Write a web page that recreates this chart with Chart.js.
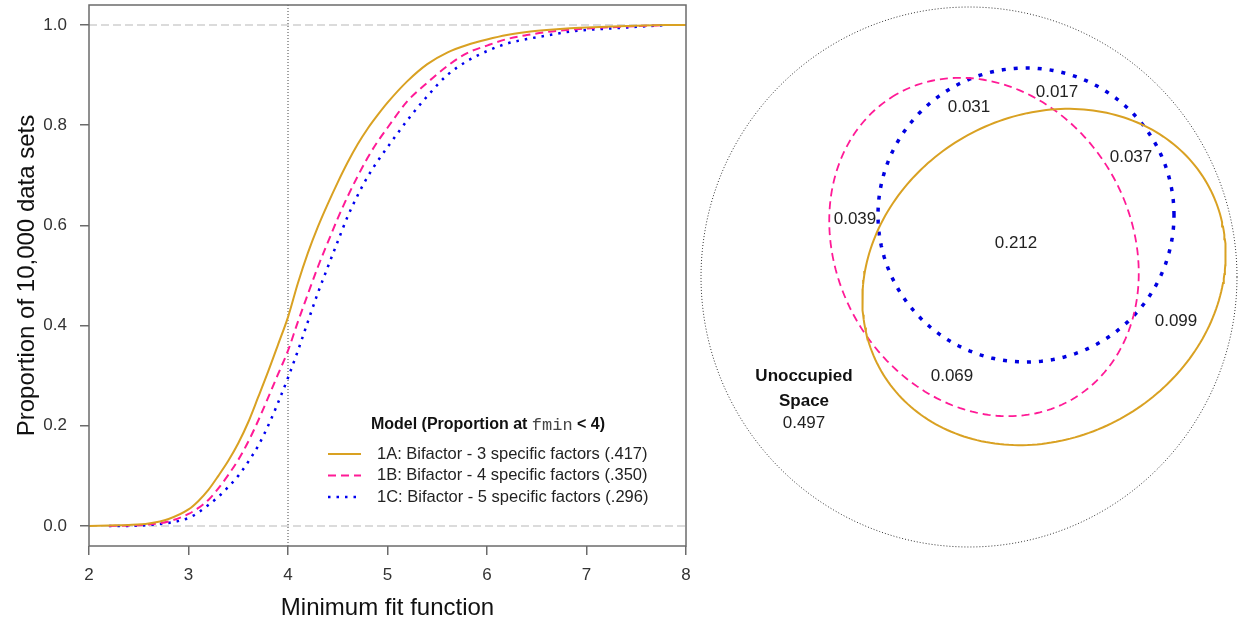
<!DOCTYPE html>
<html>
<head>
<meta charset="utf-8">
<script src="https://cdn.jsdelivr.net/npm/chart.js@4.4.0/dist/chart.umd.min.js"></script>
<style>
  html, body { margin: 0; padding: 0; background: #fff; }
  #wrap { position: relative; width: 1238px; height: 627px; }
  #cdf-chart { position: absolute; left: 0; top: 0; }
  #venn-chart { position: absolute; left: 700px; top: 0; }
</style>
</head>
<body>
<div id="wrap">
  <canvas id="cdf-chart" width="700" height="627"></canvas>
  <canvas id="venn-chart" width="538" height="627"></canvas>
</div>
<script>
// left panel: proportion of the 10,000 data sets at or below each fmin
const fminGrid = [2.0, 2.2, 2.4, 2.6, 2.8,
  3.0, 3.1, 3.2, 3.3, 3.4, 3.5, 3.6, 3.7, 3.8, 3.9, 4.0, 4.1, 4.2, 4.3, 4.4, 4.5, 4.6, 4.7, 4.8, 4.9, 5.0,
  5.2, 5.4, 5.6, 5.8, 6.0, 6.2, 6.4, 6.6, 6.8, 7.0, 7.4, 7.8, 8.0];
const model1A = [0.000, 0.001, 0.002, 0.005, 0.014,
  0.033, 0.050, 0.072, 0.100, 0.130, 0.165, 0.207, 0.257, 0.308, 0.362, 0.417, 0.485, 0.545, 0.597, 0.643, 0.686, 0.726, 0.762, 0.793, 0.820, 0.845,
  0.888, 0.922, 0.945, 0.960, 0.971, 0.980, 0.986, 0.990, 0.993, 0.995, 0.998, 1.000, 1.000];
const model1B = [null, 0.000, 0.001, 0.003, 0.009,
  0.024, 0.036, 0.052, 0.075, 0.102, 0.132, 0.168, 0.210, 0.256, 0.303, 0.350, 0.408, 0.463, 0.517, 0.566, 0.614, 0.658, 0.698, 0.735, 0.767, 0.795,
  0.848, 0.885, 0.918, 0.944, 0.959, 0.972, 0.980, 0.986, 0.990, 0.993, 0.997, 1.000, null];
const model1C = [null, 0.000, 0.000, 0.002, 0.006,
  0.016, 0.027, 0.042, 0.058, 0.078, 0.100, 0.128, 0.160, 0.200, 0.246, 0.296, 0.350, 0.408, 0.465, 0.517, 0.568, 0.618, 0.660, 0.697, 0.728, 0.756,
  0.810, 0.858, 0.900, 0.928, 0.948, 0.963, 0.972, 0.979, 0.986, 0.990, 0.995, 1.000, null];

const modelCodes = ['1A', '1B', '1C'];
const specificFactors = [3, 4, 5];
const propBelow4 = ['.417', '.350', '.296'];
const xTicks = [2, 3, 4, 5, 6, 7, 8];
const yTicks = [0, 0.2, 0.4, 0.6, 0.8, 1.0];
const fminCutoff = 4;
const refLevels = [0, 1];

// right panel: euler diagram of the three models
const vennSets = ['1A', '1B', '1C', 'all'];
const vennCx = [75, 15, 57, 0];
const vennCy = [0, 30, 62, 0];
const vennRx = [188, 176, 148, 268];
const vennRy = [161, 147, 147, 270];
const vennAngle = [30, 120, 0, 0];
const regionValues = [0.017, 0.031, 0.037, 0.039, 0.212, 0.099, 0.069, 0.497];
const regionX = [88, 0, 162, -114, 47, 207, -17, -165];
const regionY = [185, 170, 120, 58, 34, -44, -99, -146];

const SANS = '"Liberation Sans", Arial, sans-serif';
const MONO = '"Liberation Mono", "Courier New", monospace';

function toPoints(xs, ys) {
  const pts = [];
  xs.forEach((x, i) => { if (ys[i] !== null) pts.push({ x: x, y: ys[i] }); });
  return pts;
}

const modelStyles = [
  { color: '#D9A122', width: 2, dash: [] },
  { color: '#FF1A96', width: 2, dash: [8, 5] },
  { color: '#0000F0', width: 2.5, dash: [2.5, 6] }
];
const modelSeries = [model1A, model1B, model1C];

const cdfDatasets = modelSeries.map((ys, i) => ({
  label: modelCodes[i] + ': Bifactor - ' + specificFactors[i] + ' specific factors (' + propBelow4[i] + ')',
  data: toPoints(fminGrid, ys),
  showLine: true,
  pointRadius: 0,
  borderColor: modelStyles[i].color,
  borderWidth: modelStyles[i].width,
  borderDash: modelStyles[i].dash,
  cubicInterpolationMode: 'monotone',
  isModel: true
}));

refLevels.forEach(level => {
  cdfDatasets.push({
    data: [{ x: xTicks[0], y: level }, { x: xTicks[xTicks.length - 1], y: level }],
    showLine: true, pointRadius: 0,
    borderColor: '#cfcfcf', borderWidth: 1.5, borderDash: [8, 4]
  });
});
cdfDatasets.push({
  data: [{ x: fminCutoff, y: -0.04 }, { x: fminCutoff, y: 1.04 }],
  showLine: true, pointRadius: 0,
  borderColor: '#444', borderWidth: 1, borderDash: [1, 2]
});

const frame = {
  id: 'frame',
  afterDatasetsDraw(chart) {
    const { ctx, chartArea: a } = chart;
    ctx.save();
    ctx.strokeStyle = '#6b6b6b';
    ctx.lineWidth = 1.5;
    ctx.strokeRect(a.left, a.top, a.right - a.left, a.bottom - a.top);
    ctx.restore();
  }
};

const cdfLegend = {
  id: 'cdfLegend',
  afterDatasetsDraw(chart) {
    const { ctx, chartArea: a } = chart;
    const models = chart.data.datasets.filter(d => d.isModel);
    ctx.save();
    // title with the monospace fmin
    const parts = [
      { text: 'Model (Proportion at ', font: 'bold 16px ' + SANS, color: '#111' },
      { text: 'fmin', font: '17px ' + MONO, color: '#444' },
      { text: ' < 4)', font: 'bold 16px ' + SANS, color: '#111' }
    ];
    let total = 0;
    parts.forEach(p => { ctx.font = p.font; p.w = ctx.measureText(p.text).width; total += p.w; });
    let tx = a.left + 399 - total / 2;
    ctx.textBaseline = 'middle';
    ctx.textAlign = 'left';
    parts.forEach(p => {
      ctx.font = p.font; ctx.fillStyle = p.color;
      ctx.fillText(p.text, tx, a.top + 420);
      tx += p.w;
    });
    ctx.font = '16.5px ' + SANS;
    models.forEach((d, i) => {
      const y = a.top + 449 + i * 21.5;
      ctx.strokeStyle = d.borderColor;
      ctx.lineWidth = d.borderWidth;
      ctx.setLineDash(d.borderDash);
      ctx.beginPath();
      ctx.moveTo(a.left + 239, y);
      ctx.lineTo(a.left + 272, y);
      ctx.stroke();
      ctx.setLineDash([]);
      ctx.fillStyle = '#222';
      ctx.fillText(d.label, a.left + 288, y);
    });
    ctx.restore();
  }
};

new Chart(document.getElementById('cdf-chart'), {
  type: 'scatter',
  data: { datasets: cdfDatasets },
  options: {
    responsive: false,
    animation: false,
    layout: { padding: { top: 5, right: 14, left: 0, bottom: 0 } },
    plugins: { legend: { display: false }, tooltip: { enabled: false } },
    scales: {
      x: {
        type: 'linear', min: 2, max: 8,
        afterBuildTicks: s => { s.ticks = xTicks.map(v => ({ value: v })); },
        afterFit: s => { s.height = 81; s.paddingLeft = 0; s.paddingRight = 0; },
        grid: { drawOnChartArea: false, tickLength: 9, color: '#6b6b6b', lineWidth: 1.5 },
        border: { display: false },
        ticks: { padding: 10, color: '#333', font: { family: SANS, size: 17 }, maxRotation: 0, callback: v => String(v) },
        title: { display: true, text: 'Minimum fit function', color: '#111', font: { family: SANS, size: 24 }, padding: { top: 0, bottom: 4 } }
      },
      y: {
        type: 'linear', min: -0.04, max: 1.04,
        afterBuildTicks: s => { s.ticks = yTicks.map(v => ({ value: v })); },
        afterFit: s => { s.width = 89; s.paddingTop = 0; s.paddingBottom = 0; },
        grid: { drawOnChartArea: false, tickLength: 9, color: '#6b6b6b', lineWidth: 1.5 },
        border: { display: false },
        ticks: { padding: 13, color: '#333', font: { family: SANS, size: 17 }, callback: v => v.toFixed(1) },
        title: { display: true, text: 'Proportion of 10,000 data sets', color: '#111', font: { family: SANS, size: 24 }, padding: { top: 13, bottom: 0 } }
      }
    }
  },
  plugins: [frame, cdfLegend]
});

// ---- euler diagram
const vennStyles = [
  { color: '#D9A122', width: 2, dash: [] },
  { color: '#FF1A96', width: 1.8, dash: [8, 5] },
  { color: '#0000E0', width: 3.5, dash: [4, 8] },
  { color: '#333', width: 1, dash: [1, 2] }
];

function ellipsePoints(i) {
  const pts = [];
  const phi = vennAngle[i] * Math.PI / 180;
  for (let k = 0; k <= 240; k++) {
    const t = k / 240 * 2 * Math.PI;
    const ex = vennRx[i] * Math.cos(t), ey = vennRy[i] * Math.sin(t);
    pts.push({
      x: vennCx[i] + ex * Math.cos(phi) - ey * Math.sin(phi),
      y: vennCy[i] + ex * Math.sin(phi) + ey * Math.cos(phi)
    });
  }
  return pts;
}

const vennLabels = {
  id: 'vennLabels',
  afterDatasetsDraw(chart) {
    const { ctx, scales: { x, y } } = chart;
    ctx.save();
    ctx.textAlign = 'center';
    ctx.textBaseline = 'middle';
    ctx.fillStyle = '#222';
    ctx.font = '17px ' + SANS;
    regionValues.forEach((v, i) => {
      ctx.fillText(v.toFixed(3), x.getPixelForValue(regionX[i]), y.getPixelForValue(regionY[i]));
    });
    const last = regionValues.length - 1;
    ctx.font = 'bold 17px ' + SANS;
    ctx.fillStyle = '#111';
    ctx.fillText('Unoccupied', x.getPixelForValue(regionX[last]), y.getPixelForValue(regionY[last] + 47));
    ctx.fillText('Space', x.getPixelForValue(regionX[last]), y.getPixelForValue(regionY[last] + 22));
    ctx.restore();
  }
};

new Chart(document.getElementById('venn-chart'), {
  type: 'scatter',
  data: {
    datasets: vennSets.map((name, i) => ({
      label: name,
      data: ellipsePoints(i),
      showLine: true,
      pointRadius: 0,
      borderColor: vennStyles[i].color,
      borderWidth: vennStyles[i].width,
      borderDash: vennStyles[i].dash,
      tension: 0
    }))
  },
  options: {
    responsive: false,
    animation: false,
    layout: { padding: 0 },
    plugins: { legend: { display: false }, tooltip: { enabled: false } },
    scales: {
      x: { display: false, min: -269, max: 269 },
      y: { display: false, min: -350, max: 277 }
    }
  },
  plugins: [vennLabels]
});
</script>
</body>
</html>
